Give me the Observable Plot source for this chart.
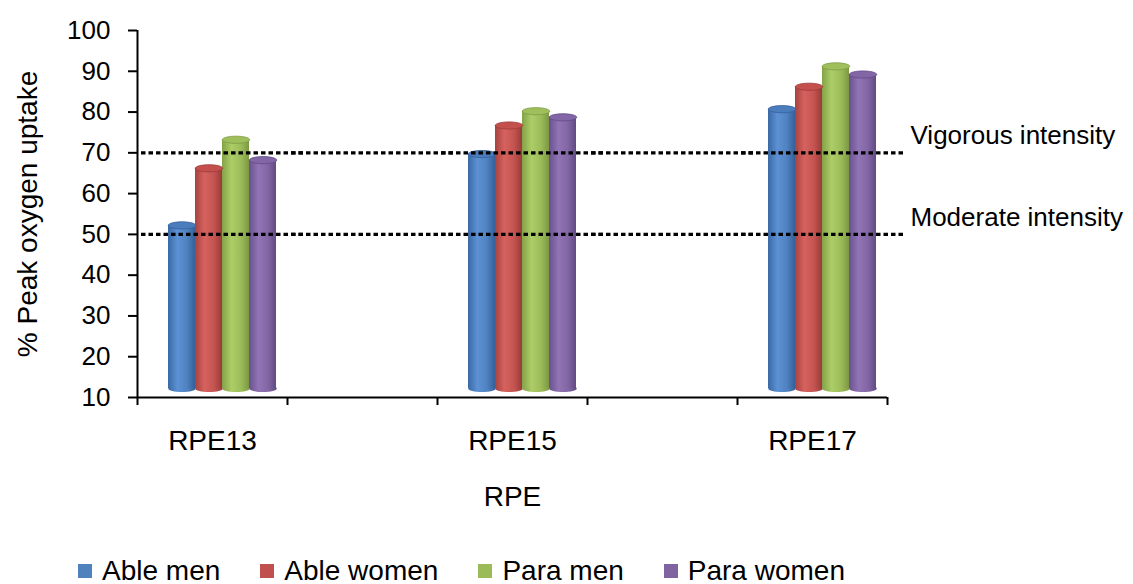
<!DOCTYPE html>
<html><head><meta charset="utf-8">
<script src="https://cdn.jsdelivr.net/npm/d3@7"></script>
<script src="https://cdn.jsdelivr.net/npm/@observablehq/plot@0.6"></script>
<style>
html,body{margin:0;padding:0;background:#fff;overflow:hidden;}
body{width:1133px;height:584px;position:relative;font-family:"Liberation Sans",Arial,sans-serif;}
#legend{position:absolute;left:78px;top:558px;display:flex;font-size:28px;line-height:26px;color:#000;white-space:nowrap;}
#legend .item{display:flex;align-items:center;margin-right:40px;}
#legend .sw{width:14px;height:14px;margin-right:10px;}
</style></head>
<body><div id="chart"></div><div id="legend"></div>
<script>
// ---- data ----
const categories = ["RPE13", "RPE15", "RPE17"];
const slots = ["RPE13", "gap1", "RPE15", "gap2", "RPE17"]; // empty slots between categories
const series = ["Able men", "Able women", "Para men", "Para women"];
const ableMen   = [50, 67.5, 78.5];
const ableWomen = [64, 74.5, 84];
const paraMen   = [71, 78, 89];
const paraWomen = [66, 76.5, 87];
const thresholds = [70, 50];
const thresholdLabels = ["Vigorous intensity", "Moderate intensity"];
const yTicks = [10, 20, 30, 40, 50, 60, 70, 80, 90, 100];
const xLabel = "RPE";
const yLabel = "% Peak oxygen uptake";

// ---- styles ----
const seriesColors = ["#4F81BD", "#C0504D", "#9BBB59", "#8064A2"];
const gradStops = [
  ["#3a69a4", "#5c91d4", "#4f82c0", "#355f97"],
  ["#a6423f", "#d6625e", "#c45451", "#993b38"],
  ["#84a248", "#accd67", "#9cbc5a", "#7c9843"],
  ["#69518e", "#9074b5", "#8266a4", "#614a84"]
];
const topFill = ["#4b7dbd", "#c4504d", "#9fbf5b", "#8266a6"];
const topStroke = ["#37609a", "#9a3b38", "#7e9a44", "#624b85"];

const seriesValues = [ableMen, ableWomen, paraMen, paraWomen];
const rows = categories.flatMap((c, i) => series.map((s, j) => ({cat: c, series: s, value: seriesValues[j][i]})));
const si = d => series.indexOf(d.series);
const thresholdRows = slots.flatMap(s => thresholds.map(t => ({slot: s, value: t})));

const W = 1133, H = 545, mL = 137, mR = 246, mT = 30, mB = 148;
const facetW = (W - mL - mR) / slots.length;
const depthX = 10, depthY = -9;
const barR = facetW / (series.length + 2 * 0.727) / 2;

const ellipse = {
  draw(ctx, size) {
    const w = Math.sqrt(size / Math.PI), h = w * 0.26, k = 0.5523;
    ctx.moveTo(w, 0);
    ctx.bezierCurveTo(w, k * h, k * w, h, 0, h);
    ctx.bezierCurveTo(-k * w, h, -w, k * h, -w, 0);
    ctx.bezierCurveTo(-w, -k * h, -k * w, -h, 0, -h);
    ctx.bezierCurveTo(k * w, -h, w, -k * h, w, 0);
    ctx.closePath();
  }
};

const chart = Plot.plot({
  width: W, height: H,
  marginLeft: mL, marginRight: mR, marginTop: mT, marginBottom: mB,
  style: {fontFamily: "Liberation Sans, Arial, sans-serif", fontSize: "26px", color: "#000", background: "#fff", overflow: "visible"},
  fx: {domain: slots, padding: 0},
  x: {domain: series, paddingInner: 0, paddingOuter: 0.727, axis: null},
  y: {domain: [10, 100]},
  color: {type: "identity"},
  marks: [
    // x axis baseline (one segment per slot, so every slot is drawn)
    Plot.ruleY(slots, {fx: d => d, y: () => 10, stroke: "#000", strokeWidth: 2}),
    Plot.dot(rows, {fx: "cat", x: "series", y: () => 10, symbol: ellipse, r: barR, fill: d => `url(#cyl${si(d)})`, dx: depthX, dy: depthY}),
    Plot.barY(rows, {fx: "cat", x: "series", y1: 10, y2: "value", fill: d => `url(#cyl${si(d)})`, dx: depthX, dy: depthY}),
    Plot.dot(rows, {fx: "cat", x: "series", y: "value", symbol: ellipse, r: barR, fill: d => topFill[si(d)], stroke: d => topStroke[si(d)], strokeWidth: 0.8, dx: depthX, dy: depthY}),
    Plot.ruleY(thresholdRows, {fx: "slot", y: "value", stroke: "#000", strokeWidth: 3.3, strokeDasharray: "4.5,3", insetLeft: 4, insetRight: -18}),
    Plot.text(thresholds, {fx: () => categories[categories.length - 1], y: d => d, text: (d, i) => thresholdLabels[i], frameAnchor: "right", textAnchor: "start", lineAnchor: "middle", dx: 23, dy: -17, fontSize: 26, fill: "#000"}),
    Plot.ruleX([slots[0]], {fx: d => d, x: null, y1: 10, y2: 100, dx: -facetW / 2, stroke: "#000", strokeWidth: 2}),
    Plot.axisY({ticks: yTicks, tickSize: 9, tickPadding: 18, fontSize: 26, strokeWidth: 2, stroke: "#000", label: null}),
    Plot.axisY({ticks: [], tickSize: 0, fontSize: 28, label: yLabel, labelAnchor: "center", labelOffset: 120, labelArrow: "none"}),
    Plot.axisFx({anchor: "bottom", tickSize: 8, tickFormat: () => "", dx: -facetW / 2, strokeWidth: 2, stroke: "#000", label: null}),
    Plot.axisFx({anchor: "bottom", ticks: [slots[slots.length - 1]], tickSize: 8, tickFormat: () => "", dx: facetW / 2, strokeWidth: 2, stroke: "#000", label: null}),
    Plot.axisFx({anchor: "bottom", tickSize: 0, tickPadding: 33, fontSize: 28, tickFormat: d => categories.includes(d) ? d : "", label: null}),
    Plot.axisFx({anchor: "bottom", ticks: [], tickSize: 0, fontSize: 28, label: xLabel, labelAnchor: "center", labelOffset: 108, labelArrow: "none"})
  ]
});

// gradient definitions for cylinder shading
const defs = d3.select(chart).insert("defs", ":first-child");
gradStops.forEach((stops, j) => {
  const g = defs.append("linearGradient").attr("id", `cyl${j}`).attr("x1", 0).attr("x2", 1).attr("y1", 0).attr("y2", 0);
  [0, 0.35, 0.7, 1].forEach((o, k) => g.append("stop").attr("offset", o).attr("stop-color", stops[k]));
});
document.getElementById("chart").appendChild(chart);

// legend
const legend = d3.select("#legend");
series.forEach((s, j) => {
  const it = legend.append("div").attr("class", "item");
  it.append("div").attr("class", "sw").style("background", seriesColors[j]);
  it.append("span").text(s);
});
</script>
</body></html>
